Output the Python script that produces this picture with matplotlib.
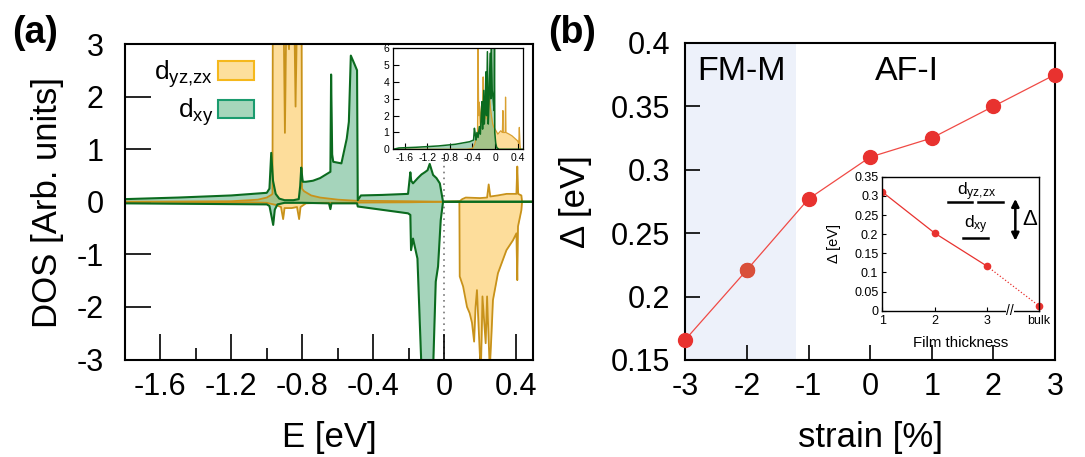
import numpy as np
import matplotlib
matplotlib.use('Agg')
import matplotlib.pyplot as plt
from matplotlib.patches import Patch
from matplotlib.ticker import FormatStrFormatter

plt.rcParams['font.family'] = ['Liberation Sans', 'DejaVu Sans']
plt.rcParams['mathtext.default'] = 'regular'
plt.rcParams['axes.unicode_minus'] = False

# ---------------- Panel (a): DOS data ----------------
# d_xy spin up
E_xy_up = [-1.8, -1.5, -1.2, -1.0, -0.985, -0.975, -0.965, -0.95, -0.93, -0.90, -0.85,
           -0.82, -0.812, -0.806, -0.80, -0.797, -0.78, -0.74, -0.70, -0.642, -0.638,
           -0.632, -0.626, -0.58, -0.55, -0.538, -0.527, -0.508, -0.492, -0.488, -0.47,
           -0.35, -0.205, -0.192, -0.187, -0.177, -0.15, -0.129, -0.111, -0.095, -0.083,
           -0.064, -0.045, -0.026, -0.008, 0.0, 0.5]
dos_xy_up = [0.05, 0.08, 0.12, 0.17, 0.25, 0.93, 0.40, 0.15, 0.06, 0.03, 0.03,
             0.05, 0.30, 0.65, 0.45, 0.38, 0.38, 0.40, 0.45, 0.57, 2.42,
             0.90, 0.76, 0.73, 1.20, 1.52, 2.78, 2.63, 2.50, 0.03, 0.12,
             0.13, 0.15, 0.56, 0.40, 0.35, 0.45, 0.52, 0.56, 0.60, 0.72,
             0.51, 0.45, 0.35, 0.0, 0.0, 0.0]
# d_xy spin down
E_xy_dn = [-1.8, -1.0, -0.985, -0.975, -0.964, -0.955, -0.94, -0.90, -0.80, -0.65,
           -0.642, -0.636, -0.50, -0.492, -0.488, -0.205, -0.192, -0.188, -0.177,
           -0.152, -0.129, -0.064, -0.049, -0.036, -0.021, -0.008, 0.0, 0.5]
dos_xy_dn = [-0.03, -0.05, -0.08, -0.25, -0.44, -0.15, -0.05, -0.02, -0.02, -0.03,
             -0.14, -0.03, -0.03, -0.03, -0.09, -0.22, -0.25, -0.92, -0.70,
             -1.08, -3.2, -3.2, -1.52, -1.23, -0.35, 0.0, 0.0, 0.0]
# d_yz,zx spin up
E_yz_up = [-1.8, -1.2, -1.05, -1.0, -0.975, -0.968, -0.966, -0.95, -0.93, -0.915,
           -0.905, -0.898, -0.89, -0.875, -0.87, -0.86, -0.845, -0.838, -0.83, -0.81,
           -0.804, -0.802, -0.79, -0.75, -0.70, -0.60, -0.50, -0.20, 0.0, 0.086,
           0.10, 0.12, 0.20, 0.24, 0.249, 0.258, 0.30, 0.35, 0.405, 0.41, 0.415,
           0.433, 0.437, 0.5]
dos_yz_up = [0.0, 0.01, 0.04, 0.08, 0.13, 0.15, 3.5, 3.5, 3.5, 3.5,
             3.5, 1.31, 3.5, 2.9, 3.5, 3.5, 3.5, 1.81, 3.5, 3.5,
             3.5, 0.25, 0.20, 0.12, 0.08, 0.04, 0.02, 0.01, 0.0, 0.01,
             0.05, 0.08, 0.07, 0.08, 0.33, 0.10, 0.12, 0.15, 0.15, 0.67, 0.15,
             0.12, 0.0, 0.0]
# d_yz,zx spin down
E_yz_dn = [-1.8, -1.1, -1.0, -0.95, -0.92, -0.908, -0.90, -0.86, -0.83, -0.818,
           -0.81, -0.78, -0.70, -0.20, 0.0, 0.084, 0.086, 0.105, 0.127, 0.142,
           0.155, 0.167, 0.175, 0.183, 0.199, 0.205, 0.21, 0.214, 0.232, 0.24,
           0.255, 0.265, 0.273, 0.301, 0.349, 0.386, 0.405, 0.41, 0.414, 0.433,
           0.437, 0.5]
dos_yz_dn = [0.0, -0.01, -0.02, -0.06, -0.10, -0.33, -0.12, -0.12, -0.10, -0.33,
             -0.10, -0.03, -0.02, -0.01, 0.0, 0.0, -1.42, -1.61, -2.0, -2.12,
             -2.3, -2.66, -2.0, -1.68, -2.88, -3.2, -2.5, -1.8, -2.69, -1.8,
             -3.2, -2.5, -1.87, -1.36, -0.92, -0.73, -0.60, -1.49, -0.47, -0.16,
             0.0, 0.0]

# inset of (a)
E_in_xy = [-1.8, -1.7, -1.4, -1.0, -0.7, -0.45, -0.38, -0.365, -0.35, -0.336, -0.32,
           -0.30, -0.278, -0.26, -0.245, -0.231, -0.22, -0.20, -0.19, -0.175, -0.162,
           -0.15, -0.135, -0.12, -0.105, -0.087, -0.075, -0.064, -0.05, -0.035,
           -0.017, -0.01, -0.005, 0.012, 0.03, 0.07, 0.5]
dos_in_xy = [0.0, 0.08, 0.12, 0.20, 0.30, 0.45, 0.55, 1.25, 0.90, 0.55, 1.0,
             0.70, 1.35, 0.90, 2.0, 2.83, 1.2, 3.5, 1.5, 2.5, 4.6,
             2.0, 5.8, 1.5, 3.0, 5.7, 3.0, 6.5, 3.5, 3.0,
             2.3, 6.5, 1.0, 0.36, 0.10, 0.0, 0.0]
E_in_yz = [-1.8, -0.5, -0.4, -0.36, -0.31, -0.30, -0.29, -0.28, -0.26, -0.24, -0.22,
           -0.21, -0.20, -0.18, -0.16, -0.14, -0.12, -0.10, -0.08, -0.06, -0.04,
           -0.02, 0.0, 0.05, 0.10, 0.13, 0.139, 0.145, 0.18, 0.186, 0.192, 0.25,
           0.30, 0.35, 0.40, 0.42, 0.43, 0.44, 0.45, 0.5]
dos_in_yz = [0.0, 0.0, 0.05, 0.3, 1.0, 6.5, 2.0, 2.8, 1.5, 2.6, 2.0,
             4.3, 2.2, 3.0, 1.8, 2.6, 1.7, 3.3, 2.4, 1.9, 1.5,
             1.3, 1.2, 0.9, 1.1, 1.0, 2.3, 1.0, 1.0, 3.1, 1.0, 0.9,
             0.8, 0.65, 0.5, 0.35, 1.3, 0.3, 0.0, 0.0]

# ---------------- Panel (b) data ----------------
strain = [-3, -2, -1, 0, 1, 2, 3]
gap = [0.166, 0.221, 0.277, 0.310, 0.325, 0.350, 0.375]
thickness = [1, 2, 3, 4]
thickness_labels = ['1', '2', '3', 'bulk']
gap_thick = [0.310, 0.203, 0.117, 0.013]

x_ticks_a = [-1.6, -1.2, -0.8, -0.4, 0, 0.4]
x_ticklabels_a = ['-1.6', '-1.2', '-0.8', '-0.4', '0', '0.4']
y_ticks_a = [-3, -2, -1, 0, 1, 2, 3]

# colours
OR_E, OR_F = '#c8921a', '#fcc24a'
GR_E, GR_F = '#0b6b1f', '#4dab78'
RED = '#e8322f'

TICK_FS = 22
LABEL_FS = 25

fig = plt.figure(figsize=(10.85, 4.57), dpi=100)

# ---------------- (a) ----------------
axA = fig.add_axes([0.1149, 0.2133, 0.3766, 0.6904])
axA.axvline(0, color='#777777', lw=1.2, ls=(0, (1, 2.5)), zorder=0.5)
axA.fill_between(E_yz_up, 0, dos_yz_up, color=OR_F, alpha=0.55, lw=0)
axA.fill_between(E_yz_dn, 0, dos_yz_dn, color=OR_F, alpha=0.55, lw=0)
axA.fill_between(E_xy_up, 0, dos_xy_up, color=GR_F, alpha=0.5, lw=0)
axA.fill_between(E_xy_dn, 0, dos_xy_dn, color=GR_F, alpha=0.5, lw=0)
axA.plot(E_yz_up, dos_yz_up, color=OR_E, lw=1.3)
axA.plot(E_yz_dn, dos_yz_dn, color=OR_E, lw=1.3)
axA.plot(E_xy_up, dos_xy_up, color=GR_E, lw=1.5)
axA.plot(E_xy_dn, dos_xy_dn, color=GR_E, lw=1.5)
axA.set_xlim(-1.8, 0.5)
axA.set_ylim(-3, 3)
axA.set_xticks(x_ticks_a)
axA.set_xticklabels(x_ticklabels_a)
axA.set_xticks([-1.4, -1.0, -0.6, -0.2, 0.2], minor=True)
axA.set_yticks(y_ticks_a)
axA.set_yticklabels([str(v) for v in y_ticks_a])
axA.tick_params(which='major', direction='in', length=19, width=1.2, labelsize=TICK_FS,
                top=False, right=False)
axA.tick_params(which='minor', direction='in', length=9, width=1.2, top=False)
axA.tick_params(axis='x', pad=9)
axA.tick_params(axis='y', pad=15)
for s in axA.spines.values():
    s.set_linewidth(1.5)

handles = [Patch(facecolor='#fddf9c', edgecolor='#f5b81c', lw=1.5),
           Patch(facecolor='#a6d6bb', edgecolor='#1a9b6e', lw=1.5)]
axA.legend(handles, ['d$_{yz{,}zx}$', 'd$_{xy}$'], loc='upper right',
           bbox_to_anchor=(0.3165, 0.955), frameon=False, markerfirst=False,
           fontsize=19, handlelength=1.35, handleheight=0.7, handletextpad=0.2,
           labelspacing=0.25, borderaxespad=0, borderpad=0)

fig.text(48 / 1085, 1 - 202 / 457, 'DOS [Arb. units]', rotation=90, fontsize=LABEL_FS,
         ha='center', va='center')
fig.text(329 / 1085, 1 - 437 / 457, 'E [eV]', fontsize=LABEL_FS, ha='center', va='center')
fig.text(35 / 1085, 1 - 33 / 457, '(a)', fontsize=27, fontweight='bold',
         ha='center', va='center')

# inset (a)
axI = fig.add_axes([0.3625, 0.6733, 0.1198, 0.221])
axI.set_facecolor('white')
axI.fill_between(E_in_yz, 0, dos_in_yz, color=OR_F, alpha=0.55, lw=0)
axI.fill_between(E_in_xy, 0, dos_in_xy, color=GR_F, alpha=0.5, lw=0)
axI.plot(E_in_yz, dos_in_yz, color='#d9a030', lw=0.9)
axI.plot(E_in_xy, dos_in_xy, color=GR_E, lw=1.1)
axI.set_xlim(-1.8, 0.5)
axI.set_ylim(0, 6)
axI.set_xticks(x_ticks_a)
axI.set_xticklabels(x_ticklabels_a)
axI.set_yticks([0, 1, 2, 3, 4, 5, 6])
axI.tick_params(direction='in', length=4, width=0.8, labelsize=7.5, top=False,
                right=False, pad=3)
for s in axI.spines.values():
    s.set_linewidth(0.9)

# ---------------- (b) ----------------
axB = fig.add_axes([0.6316, 0.2123, 0.3407, 0.6937])
axB.axvspan(-3, -1.2, color='#edf1fa', lw=0, zorder=0)
axB.plot(strain, gap, '-', color='#f04a45', lw=0.9, zorder=2)
axB.plot(strain, gap, 'o', color=RED, ms=10, zorder=3, clip_on=False)
axB.plot(strain[1], gap[1], 'o', color='#d9503a', ms=10, zorder=3)
axB.set_xlim(-3, 3)
axB.set_ylim(0.15, 0.4)
axB.set_xticks(strain)
axB.set_xticklabels([str(v) for v in strain])
axB.set_yticks([0.15, 0.2, 0.25, 0.3, 0.35, 0.4])
axB.set_yticklabels(['0.15', '0.2', '0.25', '0.3', '0.35', '0.4'])
axB.tick_params(direction='in', length=11, width=1.2, labelsize=TICK_FS, top=False,
                right=False)
axB.tick_params(axis='x', pad=9)
axB.tick_params(axis='y', pad=11)
for s in axB.spines.values():
    s.set_linewidth(1.5)
axB.text(-2.09, 0.3775, 'FM-M', fontsize=24.5, ha='center', va='center')
axB.text(0.59, 0.3775, 'AF-I', fontsize=24.5, ha='center', va='center')

fig.text(575 / 1085, 1 - 202 / 457, 'Δ [eV]', rotation=90, fontsize=LABEL_FS,
         ha='center', va='center')
fig.text(870 / 1085, 1 - 438 / 457, 'strain [%]', fontsize=LABEL_FS, ha='center',
         va='center')
fig.text(572 / 1085, 1 - 33 / 457, '(b)', fontsize=27, fontweight='bold',
         ha='center', va='center')

# inset (b)
axC = fig.add_axes([0.8133, 0.3201, 0.1441, 0.2932])
axC.set_facecolor('white')
axC.plot(thickness[:3], gap_thick[:3], '-o', color=RED, ms=4.5, lw=0.9)
axC.plot(thickness[2:], gap_thick[2:], ':', color=RED, lw=0.9)
axC.plot(thickness[3], gap_thick[3], 'o', color=RED, ms=4.5, clip_on=False)
axC.set_xlim(1, 4)
axC.set_ylim(0, 0.35)
axC.set_xticks(thickness)
axC.set_xticklabels(thickness_labels)
axC.set_yticks([0, 0.05, 0.1, 0.15, 0.2, 0.25, 0.3, 0.35])
axC.yaxis.set_major_formatter(FormatStrFormatter('%g'))
axC.tick_params(direction='in', length=3, width=0.8, labelsize=9, top=False,
                right=False, pad=3)
for s in axC.spines.values():
    s.set_linewidth(1.0)
axC.text(-0.31, 0.5, 'Δ [eV]', rotation=90, fontsize=10.5, ha='center', va='center',
         transform=axC.transAxes)
axC.text(0.5, -0.24, 'Film thickness', fontsize=10.8, ha='center', va='center',
         transform=axC.transAxes)
axC.text(3.45, 0.0, '//', fontsize=10, ha='center', va='center', clip_on=False,
         bbox=dict(fc='white', ec='none', pad=0.3))
# schematic of levels
axC.plot([2.25, 2.72], [0.285, 0.285], color='k', lw=1.8)
axC.plot([2.84, 3.31], [0.285, 0.285], color='k', lw=1.8)
axC.plot([2.55, 3.03], [0.19, 0.19], color='k', lw=1.8)
axC.text(2.8, 0.312, 'd$_{yz{,}zx}$', fontsize=12.5, ha='center', va='center')
axC.text(2.8, 0.224, 'd$_{xy}$', fontsize=12.5, ha='center', va='center')
axC.annotate('', xy=(3.55, 0.183), xytext=(3.55, 0.292),
             arrowprops=dict(arrowstyle='<|-|>', color='k', lw=1.8, mutation_scale=11,
                             shrinkA=0, shrinkB=0))
axC.text(3.82, 0.237, 'Δ', fontsize=16, ha='center', va='center')

fig.savefig('out.png', dpi=100)
